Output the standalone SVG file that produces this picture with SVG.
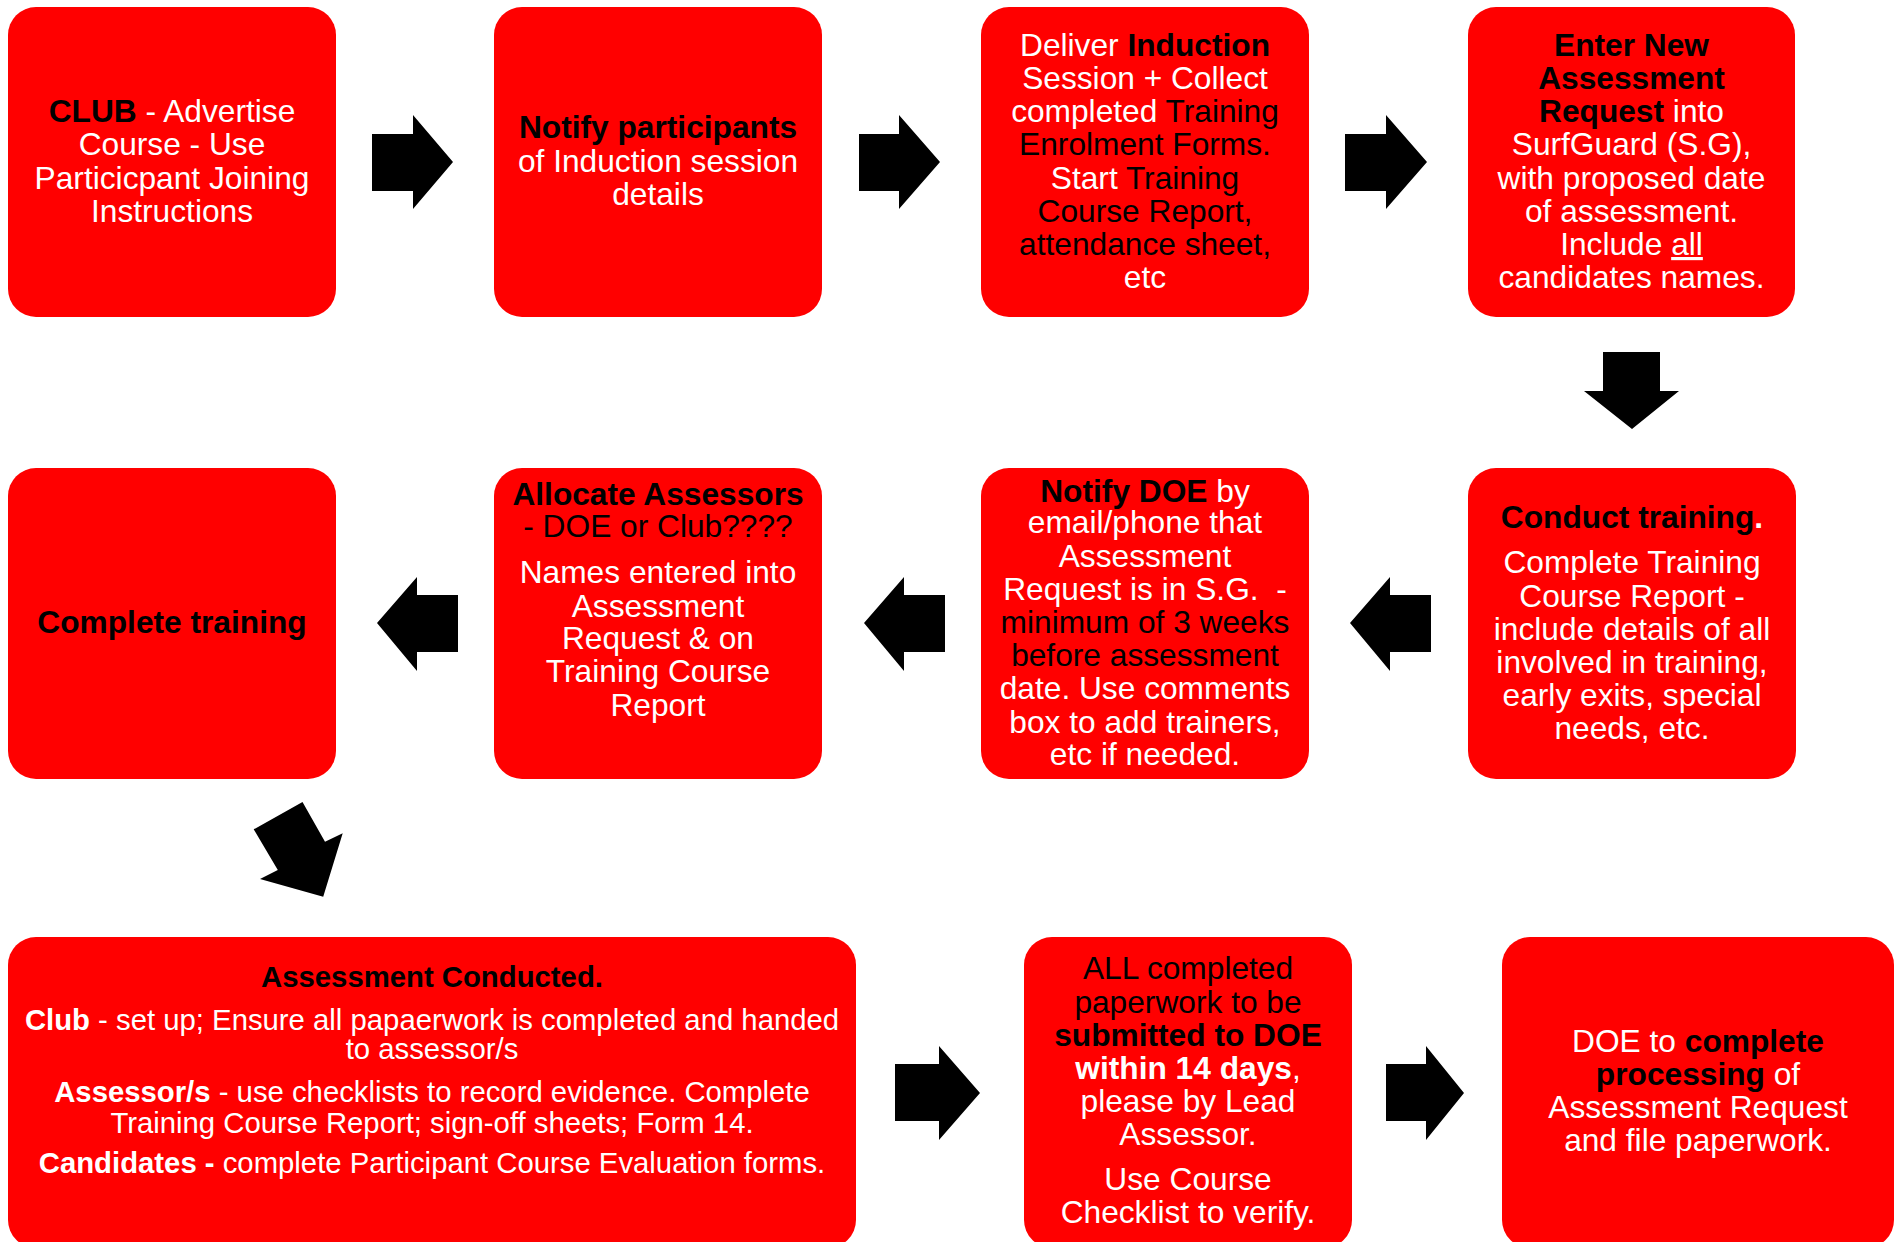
<svg xmlns="http://www.w3.org/2000/svg" width="1899" height="1242" viewBox="0 0 1899 1242">
<style>
.box{fill:#FF0000}
.t{font-family:"Liberation Sans",Arial,sans-serif;font-size:31.7px;text-anchor:middle;fill:#FFFFFF}
.s{font-size:29.3px}
.b{font-weight:bold}
.k{fill:#000000}
.w{fill:#FFFFFF}
.arr{fill:#000000}
</style>
<rect width="1899" height="1242" fill="#FFFFFF"/>
<g id="connectors">
<polygon class="arr" points="372,134 413,134 413,115 453,162 413,209 413,191 372,191"/>
<polygon class="arr" points="859,134 899,134 899,115 940,162 899,209 899,191 859,191"/>
<polygon class="arr" points="1345,134 1386,134 1386,115 1427,162 1386,209 1386,191 1345,191"/>
<polygon class="arr" points="1603,352 1660,352 1660,391 1679,391 1632,429 1584,391 1603,391"/>
<polygon class="arr" points="1431,595 1390,595 1390,577 1350,623 1390,671 1390,652 1431,652"/>
<polygon class="arr" points="945,595 904,595 904,577 864,623 904,671 904,652 945,652"/>
<polygon class="arr" points="458,595 417,595 417,577 377,623 417,671 417,652 458,652"/>
<polygon class="arr" points="302.5,802 325,841.7 342.7,833.3 323.2,896.7 260,879 277.8,870 253.7,829.3"/>
<polygon class="arr" points="895,1064 939,1064 939,1046 980,1093 939,1140 939,1121 895,1121"/>
<polygon class="arr" points="1386,1064 1426,1064 1426,1046 1464,1093 1426,1140 1426,1121 1386,1121"/>
</g>
<g id="n1">
<rect class="box" x="8" y="7" width="328" height="310" rx="28"/>
<text class="t" x="172" y="121.7"><tspan class="k b">CLUB</tspan> - Advertise</text>
<text class="t" x="172" y="155.2">Course - Use</text>
<text class="t" x="172" y="188.5">Particicpant Joining</text>
<text class="t" x="172" y="221.7">Instructions</text>
</g>
<g id="n2">
<rect class="box" x="494" y="7" width="328" height="310" rx="28"/>
<text class="t k b" x="658" y="138.3">Notify participants</text>
<text class="t" x="658" y="171.7">of Induction session</text>
<text class="t" x="658" y="204.5">details</text>
</g>
<g id="n3">
<rect class="box" x="981" y="7" width="328" height="310" rx="28"/>
<text class="t" x="1145" y="55.7">Deliver <tspan class="k b">Induction</tspan></text>
<text class="t" x="1145" y="89">Session + Collect</text>
<text class="t" x="1145" y="121.7">completed <tspan class="k">Training</tspan></text>
<text class="t k" x="1145" y="155.2">Enrolment Forms.</text>
<text class="t" x="1145" y="188.5">Start <tspan class="k">Training</tspan></text>
<text class="t k" x="1145" y="221.7">Course Report,</text>
<text class="t k" x="1145" y="255">attendance sheet,</text>
<text class="t" x="1145" y="287.5">etc</text>
</g>
<g id="n4">
<rect class="box" x="1468" y="7" width="327" height="310" rx="28"/>
<text class="t k b" x="1631.5" y="55.7">Enter New</text>
<text class="t k b" x="1631.5" y="89">Assessment</text>
<text class="t" x="1631.5" y="121.7"><tspan class="k b">Request</tspan> into</text>
<text class="t" x="1631.5" y="155.2">SurfGuard (S.G),</text>
<text class="t" x="1631.5" y="188.5">with proposed date</text>
<text class="t" x="1631.5" y="221.7">of assessment.</text>
<text class="t" x="1631.5" y="255">Include <tspan text-decoration="underline">all</tspan></text>
<text class="t" x="1631.5" y="287.5">candidates names.</text>
</g>
<g id="n5">
<rect class="box" x="1468" y="468" width="328" height="311" rx="28"/>
<text class="t b" x="1632" y="528.3"><tspan class="k">Conduct training</tspan>.</text>
<text class="t" x="1632" y="573.3">Complete Training</text>
<text class="t" x="1632" y="606.7">Course Report -</text>
<text class="t" x="1632" y="640">include details of all</text>
<text class="t" x="1632" y="672.7">involved in training,</text>
<text class="t" x="1632" y="706">early exits, special</text>
<text class="t" x="1632" y="739.3">needs, etc.</text>
</g>
<g id="n6">
<rect class="box" x="981" y="468" width="328" height="311" rx="28"/>
<text class="t" x="1145" y="501.7"><tspan class="k b">Notify DOE</tspan> by</text>
<text class="t" x="1145" y="533.3">email/phone that</text>
<text class="t" x="1145" y="566.7">Assessment</text>
<text class="t" x="1145" y="600" style="white-space:pre">Request is in S.G.  -</text>
<text class="t k" x="1145" y="633.3">minimum of 3 weeks</text>
<text class="t k" x="1145" y="666">before assessment</text>
<text class="t" x="1145" y="699.3">date. Use comments</text>
<text class="t" x="1145" y="732.7">box to add trainers,</text>
<text class="t" x="1145" y="765">etc if needed.</text>
</g>
<g id="n7">
<rect class="box" x="494" y="468" width="328" height="311" rx="28"/>
<text class="t k b" x="658" y="505">Allocate Assessors</text>
<text class="t k" x="658" y="537.3">- DOE or Club????</text>
<text class="t" x="658" y="583.3">Names entered into</text>
<text class="t" x="658" y="616.7">Assessment</text>
<text class="t" x="658" y="649.3">Request &amp; on</text>
<text class="t" x="658" y="682.3">Training Course</text>
<text class="t" x="658" y="715.7">Report</text>
</g>
<g id="n8">
<rect class="box" x="8" y="468" width="328" height="311" rx="28"/>
<text class="t k b" x="172" y="633.3">Complete training</text>
</g>
<g id="n9">
<rect class="box" x="8" y="937" width="848" height="311" rx="28"/>
<text class="t s k b" x="432" y="986.7">Assessment Conducted.</text>
<text class="t s" x="432" y="1030"><tspan class="b">Club</tspan> - set up; Ensure all papaerwork is completed and handed</text>
<text class="t s" x="432" y="1059.3">to assessor/s</text>
<text class="t s" x="432" y="1101.7"><tspan class="b">Assessor/s</tspan> - use checklists to record evidence. Complete</text>
<text class="t s" x="432" y="1132.7">Training Course Report; sign-off sheets; Form 14.</text>
<text class="t s" x="432" y="1173.3"><tspan class="b">Candidates -</tspan> complete Participant Course Evaluation forms.</text>
</g>
<g id="n10">
<rect class="box" x="1024" y="937" width="328" height="311" rx="28"/>
<text class="t k" x="1188" y="979.3">ALL completed</text>
<text class="t k" x="1188" y="1012.7">paperwork to be</text>
<text class="t k b" x="1188" y="1046">submitted to DOE</text>
<text class="t" x="1188" y="1079.3"><tspan class="b">within 14 days</tspan>,</text>
<text class="t" x="1188" y="1111.7">please by Lead</text>
<text class="t" x="1188" y="1145">Assessor.</text>
<text class="t" x="1188" y="1190">Use Course</text>
<text class="t" x="1188" y="1223.3">Checklist to verify.</text>
</g>
<g id="n11">
<rect class="box" x="1502" y="937" width="392" height="311" rx="28"/>
<text class="t" x="1698" y="1051.7">DOE to <tspan class="k b">complete</tspan></text>
<text class="t" x="1698" y="1085"><tspan class="k b">processing</tspan> of</text>
<text class="t" x="1698" y="1118.3">Assessment Request</text>
<text class="t" x="1698" y="1151">and file paperwork.</text>
</g>
</svg>
